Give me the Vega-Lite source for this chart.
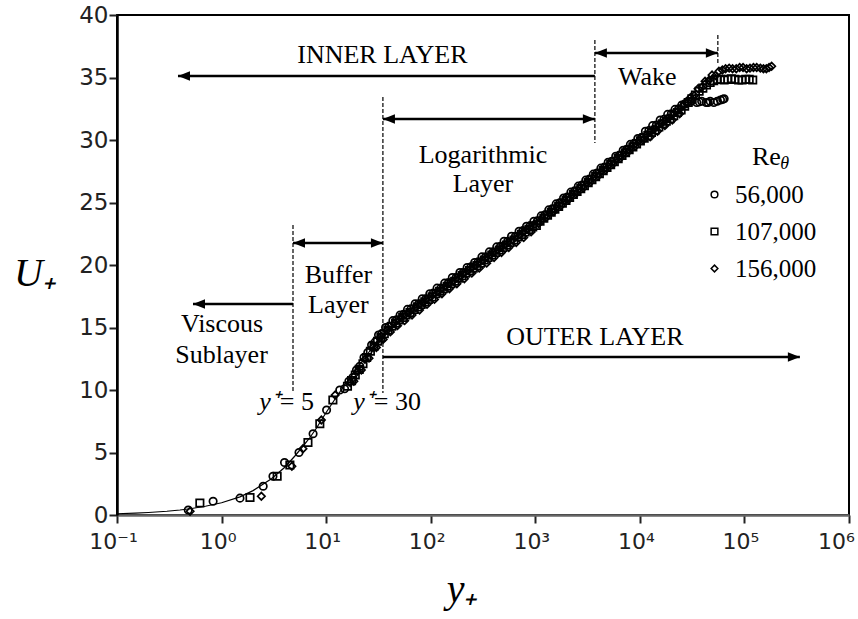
{
  "$schema": "https://vega.github.io/schema/vega-lite/v6.json",
  "width": 732,
  "height": 500,
  "autosize": {"type": "none"},
  "padding": {"left": 117, "top": 15, "right": 9, "bottom": 104},
  "background": "white",
  "config": {"view": {"stroke": "black", "strokeWidth": 2}, "font": "Liberation Serif"},
  "datasets": {
    "law": [
      {"yp": 0.1, "u": 0.1}, {"yp": 0.15, "u": 0.15}, {"yp": 0.2, "u": 0.2}, {"yp": 0.3, "u": 0.3}, {"yp": 0.4, "u": 0.4},
      {"yp": 0.5, "u": 0.5}, {"yp": 0.7, "u": 0.7}, {"yp": 1, "u": 0.98}, {"yp": 1.5, "u": 1.45}, {"yp": 2, "u": 1.95},
      {"yp": 3, "u": 2.9}, {"yp": 4, "u": 3.8}, {"yp": 5, "u": 4.7}, {"yp": 6, "u": 5.5}, {"yp": 7, "u": 6.2},
      {"yp": 8, "u": 6.9}, {"yp": 10, "u": 8.2}, {"yp": 12, "u": 9.2}, {"yp": 15, "u": 10.4}, {"yp": 20, "u": 11.8},
      {"yp": 25, "u": 12.9}, {"yp": 30, "u": 13.8}, {"yp": 40, "u": 14.9}, {"yp": 50, "u": 15.6}, {"yp": 70, "u": 16.5},
      {"yp": 100, "u": 17.5}, {"yp": 1000, "u": 23.3}, {"yp": 10000, "u": 29.9}, {"yp": 25000, "u": 32.5}
    ],
    "profile": [
      {"re": "56,000", "yp": 0.48, "u": 0.4}, {"re": "56,000", "yp": 0.83, "u": 1.1}, {"re": "56,000", "yp": 1.5, "u": 1.35},
      {"re": "56,000", "yp": 2.5, "u": 2.3}, {"re": "56,000", "yp": 3.1, "u": 3.1}, {"re": "56,000", "yp": 4.0, "u": 4.2},
      {"re": "56,000", "yp": 5.5, "u": 5.0}, {"re": "56,000", "yp": 7.5, "u": 6.5}, {"re": "56,000", "yp": 10.1, "u": 8.4},
      {"re": "56,000", "yp": 13.5, "u": 10.0}, {"re": "56,000", "yp": 15, "u": 10.1}, {"re": "56,000", "yp": 16.5, "u": 10.7},
      {"re": "56,000", "yp": 18, "u": 11.0}, {"re": "56,000", "yp": 19.5, "u": 11.6}, {"re": "56,000", "yp": 21, "u": 11.9},
      {"re": "56,000", "yp": 23, "u": 12.6}, {"re": "56,000", "yp": 25, "u": 13.0}, {"re": "56,000", "yp": 27.2, "u": 13.6},
      {"re": "56,000", "yp": 29.5, "u": 13.85}, {"re": "56,000", "yp": 31.7, "u": 14.4}, {"re": "56,000", "yp": 34, "u": 14.5},
      {"re": "56,000", "yp": 37, "u": 15.0}, {"re": "56,000", "yp": 40, "u": 15.1}, {"re": "56,000", "yp": 43.5, "u": 15.55},
      {"re": "56,000", "yp": 47, "u": 15.6}, {"re": "56,000", "yp": 51, "u": 16.0}, {"re": "56,000", "yp": 55, "u": 16.05},
      {"re": "56,000", "yp": 60, "u": 16.45}, {"re": "56,000", "yp": 65, "u": 16.5}, {"re": "56,000", "yp": 71, "u": 16.9},
      {"re": "56,000", "yp": 77, "u": 16.9}, {"re": "56,000", "yp": 83, "u": 17.3}, {"re": "56,000", "yp": 90, "u": 17.3},
      {"re": "56,000", "yp": 98, "u": 17.7}, {"re": "56,000", "yp": 106, "u": 17.75}, {"re": "56,000", "yp": 115, "u": 18.15},
      {"re": "56,000", "yp": 125, "u": 18.15}, {"re": "56,000", "yp": 136, "u": 18.55}, {"re": "56,000", "yp": 148, "u": 18.6},
      {"re": "56,000", "yp": 161, "u": 19.0}, {"re": "56,000", "yp": 175, "u": 19.0}, {"re": "56,000", "yp": 190, "u": 19.4},
      {"re": "56,000", "yp": 205, "u": 19.4}, {"re": "56,000", "yp": 223, "u": 19.8}, {"re": "56,000", "yp": 242, "u": 19.85},
      {"re": "56,000", "yp": 263, "u": 20.2}, {"re": "56,000", "yp": 285, "u": 20.25}, {"re": "56,000", "yp": 309, "u": 20.65},
      {"re": "56,000", "yp": 335, "u": 20.65}, {"re": "56,000", "yp": 364, "u": 21.05}, {"re": "56,000", "yp": 395, "u": 21.05},
      {"re": "56,000", "yp": 428, "u": 21.45}, {"re": "56,000", "yp": 465, "u": 21.5}, {"re": "56,000", "yp": 503, "u": 21.9},
      {"re": "56,000", "yp": 545, "u": 21.9}, {"re": "56,000", "yp": 593, "u": 22.3}, {"re": "56,000", "yp": 645, "u": 22.3},
      {"re": "56,000", "yp": 700, "u": 22.7}, {"re": "56,000", "yp": 760, "u": 22.75}, {"re": "56,000", "yp": 825, "u": 23.1},
      {"re": "56,000", "yp": 895, "u": 23.15}, {"re": "56,000", "yp": 970, "u": 23.5}, {"re": "56,000", "yp": 1050, "u": 23.54},
      {"re": "56,000", "yp": 1140, "u": 23.93}, {"re": "56,000", "yp": 1240, "u": 24.02}, {"re": "56,000", "yp": 1345, "u": 24.41},
      {"re": "56,000", "yp": 1460, "u": 24.5}, {"re": "56,000", "yp": 1585, "u": 24.89}, {"re": "56,000", "yp": 1720, "u": 24.98},
      {"re": "56,000", "yp": 1865, "u": 25.36}, {"re": "56,000", "yp": 2020, "u": 25.44}, {"re": "56,000", "yp": 2190, "u": 25.83},
      {"re": "56,000", "yp": 2380, "u": 25.93}, {"re": "56,000", "yp": 2580, "u": 26.31}, {"re": "56,000", "yp": 2800, "u": 26.4},
      {"re": "56,000", "yp": 3040, "u": 26.79}, {"re": "56,000", "yp": 3300, "u": 26.88}, {"re": "56,000", "yp": 3590, "u": 27.27},
      {"re": "56,000", "yp": 3900, "u": 27.36}, {"re": "56,000", "yp": 4240, "u": 27.75}, {"re": "56,000", "yp": 4600, "u": 27.84},
      {"re": "56,000", "yp": 4980, "u": 28.22}, {"re": "56,000", "yp": 5400, "u": 28.3}, {"re": "56,000", "yp": 5880, "u": 28.7},
      {"re": "56,000", "yp": 6400, "u": 28.8}, {"re": "56,000", "yp": 6930, "u": 29.18}, {"re": "56,000", "yp": 7500, "u": 29.26},
      {"re": "56,000", "yp": 8120, "u": 29.65}, {"re": "56,000", "yp": 8800, "u": 29.73}, {"re": "56,000", "yp": 9560, "u": 30.12},
      {"re": "56,000", "yp": 10400, "u": 30.21}, {"re": "56,000", "yp": 11300, "u": 30.7}, {"re": "56,000", "yp": 12200, "u": 30.75},
      {"re": "56,000", "yp": 13250, "u": 31.15}, {"re": "56,000", "yp": 14400, "u": 31.2}, {"re": "56,000", "yp": 15650, "u": 31.6},
      {"re": "56,000", "yp": 17000, "u": 31.65}, {"re": "56,000", "yp": 18450, "u": 32.05}, {"re": "56,000", "yp": 20000, "u": 32.1},
      {"re": "56,000", "yp": 21700, "u": 32.45}, {"re": "56,000", "yp": 23500, "u": 32.5}, {"re": "56,000", "yp": 25200, "u": 32.8},
      {"re": "56,000", "yp": 27000, "u": 32.9}, {"re": "56,000", "yp": 29000, "u": 33.1}, {"re": "56,000", "yp": 31000, "u": 33.1},
      {"re": "56,000", "yp": 35000, "u": 33.0}, {"re": "56,000", "yp": 37000, "u": 33.05}, {"re": "56,000", "yp": 39000, "u": 33.1},
      {"re": "56,000", "yp": 43000, "u": 33.0}, {"re": "56,000", "yp": 45000, "u": 33.0}, {"re": "56,000", "yp": 47000, "u": 33.1},
      {"re": "56,000", "yp": 51000, "u": 33.0}, {"re": "56,000", "yp": 55000, "u": 33.1}, {"re": "56,000", "yp": 59000, "u": 33.2},
      {"re": "56,000", "yp": 62000, "u": 33.25}, {"re": "56,000", "yp": 64000, "u": 33.3},
      {"re": "107,000", "yp": 0.62, "u": 0.96}, {"re": "107,000", "yp": 1.87, "u": 1.4}, {"re": "107,000", "yp": 3.4, "u": 3.1},
      {"re": "107,000", "yp": 4.5, "u": 4.0}, {"re": "107,000", "yp": 6.7, "u": 5.8}, {"re": "107,000", "yp": 8.7, "u": 7.3},
      {"re": "107,000", "yp": 11.6, "u": 9.2}, {"re": "107,000", "yp": 16, "u": 10.3}, {"re": "107,000", "yp": 17.5, "u": 10.75},
      {"re": "107,000", "yp": 19, "u": 11.2}, {"re": "107,000", "yp": 20.7, "u": 11.65}, {"re": "107,000", "yp": 22.5, "u": 12.1},
      {"re": "107,000", "yp": 24.4, "u": 12.6}, {"re": "107,000", "yp": 26.5, "u": 13.1}, {"re": "107,000", "yp": 28.7, "u": 13.5},
      {"re": "107,000", "yp": 31, "u": 13.9}, {"re": "107,000", "yp": 33.4, "u": 14.2}, {"re": "107,000", "yp": 36, "u": 14.5},
      {"re": "107,000", "yp": 39.1, "u": 14.8}, {"re": "107,000", "yp": 42.5, "u": 15.1}, {"re": "107,000", "yp": 46.1, "u": 15.35},
      {"re": "107,000", "yp": 50, "u": 15.6}, {"re": "107,000", "yp": 53.9, "u": 15.8}, {"re": "107,000", "yp": 58, "u": 16.0},
      {"re": "107,000", "yp": 63.3, "u": 16.2}, {"re": "107,000", "yp": 69, "u": 16.45}, {"re": "107,000", "yp": 74.8, "u": 16.65},
      {"re": "107,000", "yp": 81, "u": 16.85}, {"re": "107,000", "yp": 87.7, "u": 17.05}, {"re": "107,000", "yp": 95, "u": 17.25},
      {"re": "107,000", "yp": 103, "u": 17.45}, {"re": "107,000", "yp": 112, "u": 17.7}, {"re": "107,000", "yp": 121.6, "u": 17.9},
      {"re": "107,000", "yp": 132, "u": 18.1}, {"re": "107,000", "yp": 143.5, "u": 18.3}, {"re": "107,000", "yp": 156, "u": 18.5},
      {"re": "107,000", "yp": 169.4, "u": 18.7}, {"re": "107,000", "yp": 184, "u": 18.95}, {"re": "107,000", "yp": 199.4, "u": 19.15},
      {"re": "107,000", "yp": 216, "u": 19.35}, {"re": "107,000", "yp": 234.7, "u": 19.55}, {"re": "107,000", "yp": 255, "u": 19.75},
      {"re": "107,000", "yp": 276.6, "u": 19.95}, {"re": "107,000", "yp": 300, "u": 20.15}, {"re": "107,000", "yp": 325.4, "u": 20.4},
      {"re": "107,000", "yp": 353, "u": 20.6}, {"re": "107,000", "yp": 383.7, "u": 20.8}, {"re": "107,000", "yp": 417, "u": 21.0},
      {"re": "107,000", "yp": 452, "u": 21.2}, {"re": "107,000", "yp": 490, "u": 21.4}, {"re": "107,000", "yp": 530.8, "u": 21.6},
      {"re": "107,000", "yp": 575, "u": 21.8}, {"re": "107,000", "yp": 625.3, "u": 22.0}, {"re": "107,000", "yp": 680, "u": 22.25},
      {"re": "107,000", "yp": 737.6, "u": 22.45}, {"re": "107,000", "yp": 800, "u": 22.65}, {"re": "107,000", "yp": 869.5, "u": 22.85},
      {"re": "107,000", "yp": 945, "u": 23.05}, {"re": "107,000", "yp": 1024, "u": 23.17}, {"re": "107,000", "yp": 1110, "u": 23.5},
      {"re": "107,000", "yp": 1206, "u": 23.74}, {"re": "107,000", "yp": 1310, "u": 23.98}, {"re": "107,000", "yp": 1420, "u": 24.22},
      {"re": "107,000", "yp": 1540, "u": 24.46}, {"re": "107,000", "yp": 1672, "u": 24.69}, {"re": "107,000", "yp": 1815, "u": 24.94},
      {"re": "107,000", "yp": 1966, "u": 25.17}, {"re": "107,000", "yp": 2130, "u": 25.4}, {"re": "107,000", "yp": 2312, "u": 25.64},
      {"re": "107,000", "yp": 2510, "u": 25.88}, {"re": "107,000", "yp": 2721, "u": 26.11}, {"re": "107,000", "yp": 2950, "u": 26.35},
      {"re": "107,000", "yp": 3204, "u": 26.59}, {"re": "107,000", "yp": 3480, "u": 26.83}, {"re": "107,000", "yp": 3777, "u": 27.07},
      {"re": "107,000", "yp": 4100, "u": 27.31}, {"re": "107,000", "yp": 4459, "u": 27.55}, {"re": "107,000", "yp": 4850, "u": 27.8},
      {"re": "107,000", "yp": 5258, "u": 28.03}, {"re": "107,000", "yp": 5700, "u": 28.27}, {"re": "107,000", "yp": 6203, "u": 28.51},
      {"re": "107,000", "yp": 6750, "u": 28.76}, {"re": "107,000", "yp": 7302, "u": 28.98}, {"re": "107,000", "yp": 7900, "u": 29.22},
      {"re": "107,000", "yp": 8572, "u": 29.45}, {"re": "107,000", "yp": 9300, "u": 29.69}, {"re": "107,000", "yp": 10115, "u": 29.93},
      {"re": "107,000", "yp": 11000, "u": 30.15}, {"re": "107,000", "yp": 11912, "u": 30.35}, {"re": "107,000", "yp": 12900, "u": 30.6},
      {"re": "107,000", "yp": 14003, "u": 30.8}, {"re": "107,000", "yp": 15200, "u": 31.05}, {"re": "107,000", "yp": 16495, "u": 31.3},
      {"re": "107,000", "yp": 17900, "u": 31.5}, {"re": "107,000", "yp": 19434, "u": 31.7}, {"re": "107,000", "yp": 21100, "u": 31.95},
      {"re": "107,000", "yp": 22876, "u": 32.2}, {"re": "107,000", "yp": 24800, "u": 32.4}, {"re": "107,000", "yp": 26818, "u": 32.7},
      {"re": "107,000", "yp": 29000, "u": 33.0}, {"re": "107,000", "yp": 31400, "u": 33.3}, {"re": "107,000", "yp": 34000, "u": 33.6},
      {"re": "107,000", "yp": 36878, "u": 33.9}, {"re": "107,000", "yp": 40000, "u": 34.15}, {"re": "107,000", "yp": 43360, "u": 34.4},
      {"re": "107,000", "yp": 47000, "u": 34.6}, {"re": "107,000", "yp": 50850, "u": 34.75}, {"re": "107,000", "yp": 55000, "u": 34.85},
      {"re": "107,000", "yp": 59000, "u": 34.85}, {"re": "107,000", "yp": 64000, "u": 34.8}, {"re": "107,000", "yp": 69500, "u": 34.85},
      {"re": "107,000", "yp": 75000, "u": 34.9}, {"re": "107,000", "yp": 81000, "u": 34.85}, {"re": "107,000", "yp": 88000, "u": 34.8},
      {"re": "107,000", "yp": 95000, "u": 34.8}, {"re": "107,000", "yp": 103000, "u": 34.85}, {"re": "107,000", "yp": 111000, "u": 34.85},
      {"re": "107,000", "yp": 120000, "u": 34.8},
      {"re": "156,000", "yp": 0.5, "u": 0.3}, {"re": "156,000", "yp": 2.4, "u": 1.5}, {"re": "156,000", "yp": 4.7, "u": 3.9},
      {"re": "156,000", "yp": 6.0, "u": 5.3}, {"re": "156,000", "yp": 9.0, "u": 7.6}, {"re": "156,000", "yp": 12.2, "u": 9.6},
      {"re": "156,000", "yp": 17, "u": 10.6}, {"re": "156,000", "yp": 18.4, "u": 10.7}, {"re": "156,000", "yp": 20, "u": 11.5},
      {"re": "156,000", "yp": 21.7, "u": 11.6}, {"re": "156,000", "yp": 23.5, "u": 12.45}, {"re": "156,000", "yp": 25.7, "u": 12.55},
      {"re": "156,000", "yp": 28, "u": 13.4}, {"re": "156,000", "yp": 30.2, "u": 13.4}, {"re": "156,000", "yp": 32.5, "u": 14.15},
      {"re": "156,000", "yp": 35.1, "u": 14.05}, {"re": "156,000", "yp": 38, "u": 14.75}, {"re": "156,000", "yp": 41.1, "u": 14.65},
      {"re": "156,000", "yp": 44.5, "u": 15.3}, {"re": "156,000", "yp": 48.1, "u": 15.15}, {"re": "156,000", "yp": 52, "u": 15.75},
      {"re": "156,000", "yp": 56.3, "u": 15.55}, {"re": "156,000", "yp": 61, "u": 16.15}, {"re": "156,000", "yp": 66.3, "u": 16.0},
      {"re": "156,000", "yp": 72, "u": 16.6}, {"re": "156,000", "yp": 78.2, "u": 16.4}, {"re": "156,000", "yp": 85, "u": 17.0},
      {"re": "156,000", "yp": 92.2, "u": 16.85}, {"re": "156,000", "yp": 100, "u": 17.45}, {"re": "156,000", "yp": 108.6, "u": 17.25},
      {"re": "156,000", "yp": 118, "u": 17.85}, {"re": "156,000", "yp": 128.1, "u": 17.7}, {"re": "156,000", "yp": 139, "u": 18.3},
      {"re": "156,000", "yp": 151, "u": 18.1}, {"re": "156,000", "yp": 164, "u": 18.7}, {"re": "156,000", "yp": 177.9, "u": 18.5},
      {"re": "156,000", "yp": 193, "u": 19.1}, {"re": "156,000", "yp": 209.8, "u": 18.9}, {"re": "156,000", "yp": 228, "u": 19.55},
      {"re": "156,000", "yp": 247.2, "u": 19.35}, {"re": "156,000", "yp": 268, "u": 19.95}, {"re": "156,000", "yp": 291, "u": 19.75},
      {"re": "156,000", "yp": 316, "u": 20.35}, {"re": "156,000", "yp": 343, "u": 20.15}, {"re": "156,000", "yp": 372, "u": 20.8},
      {"re": "156,000", "yp": 403.6, "u": 20.6}, {"re": "156,000", "yp": 438, "u": 21.2}, {"re": "156,000", "yp": 475, "u": 21.0},
      {"re": "156,000", "yp": 515, "u": 21.6}, {"re": "156,000", "yp": 558, "u": 21.4}, {"re": "156,000", "yp": 605, "u": 22.0},
      {"re": "156,000", "yp": 657.7, "u": 21.8}, {"re": "156,000", "yp": 715, "u": 22.4}, {"re": "156,000", "yp": 775, "u": 22.2},
      {"re": "156,000", "yp": 840, "u": 22.85}, {"re": "156,000", "yp": 912, "u": 22.65}, {"re": "156,000", "yp": 990, "u": 23.27},
      {"re": "156,000", "yp": 1076, "u": 23.31}, {"re": "156,000", "yp": 1170, "u": 23.76}, {"re": "156,000", "yp": 1271, "u": 23.8},
      {"re": "156,000", "yp": 1380, "u": 24.24}, {"re": "156,000", "yp": 1495, "u": 24.27}, {"re": "156,000", "yp": 1620, "u": 24.71},
      {"re": "156,000", "yp": 1759, "u": 24.74}, {"re": "156,000", "yp": 1910, "u": 25.18}, {"re": "156,000", "yp": 2073, "u": 25.22},
      {"re": "156,000", "yp": 2250, "u": 25.66}, {"re": "156,000", "yp": 2437, "u": 25.69}, {"re": "156,000", "yp": 2640, "u": 26.13},
      {"re": "156,000", "yp": 2865, "u": 26.16}, {"re": "156,000", "yp": 3110, "u": 26.6}, {"re": "156,000", "yp": 3374, "u": 26.64},
      {"re": "156,000", "yp": 3660, "u": 27.07}, {"re": "156,000", "yp": 3976, "u": 27.11}, {"re": "156,000", "yp": 4320, "u": 27.55},
      {"re": "156,000", "yp": 4694, "u": 27.6}, {"re": "156,000", "yp": 5100, "u": 28.04}, {"re": "156,000", "yp": 5532, "u": 28.08},
      {"re": "156,000", "yp": 6000, "u": 28.51}, {"re": "156,000", "yp": 6527, "u": 28.56}, {"re": "156,000", "yp": 7100, "u": 29.0},
      {"re": "156,000", "yp": 7677, "u": 29.03}, {"re": "156,000", "yp": 8300, "u": 29.46}, {"re": "156,000", "yp": 9019, "u": 29.5},
      {"re": "156,000", "yp": 9800, "u": 29.94}, {"re": "156,000", "yp": 10662, "u": 29.99}, {"re": "156,000", "yp": 11600, "u": 30.4},
      {"re": "156,000", "yp": 12560, "u": 30.25}, {"re": "156,000", "yp": 13600, "u": 30.85}, {"re": "156,000", "yp": 14751, "u": 30.7},
      {"re": "156,000", "yp": 16000, "u": 31.3}, {"re": "156,000", "yp": 17344, "u": 31.15}, {"re": "156,000", "yp": 18800, "u": 31.75},
      {"re": "156,000", "yp": 20430, "u": 31.6}, {"re": "156,000", "yp": 22200, "u": 32.25}, {"re": "156,000", "yp": 24025, "u": 32.1},
      {"re": "156,000", "yp": 26000, "u": 32.75}, {"re": "156,000", "yp": 28160, "u": 32.9}, {"re": "156,000", "yp": 30500, "u": 33.4},
      {"re": "156,000", "yp": 33136, "u": 33.55}, {"re": "156,000", "yp": 36000, "u": 34.1}, {"re": "156,000", "yp": 38884, "u": 34.2},
      {"re": "156,000", "yp": 42000, "u": 34.7}, {"re": "156,000", "yp": 45365, "u": 34.75}, {"re": "156,000", "yp": 49000, "u": 35.2},
      {"re": "156,000", "yp": 52850, "u": 35.15}, {"re": "156,000", "yp": 57000, "u": 35.5}, {"re": "156,000", "yp": 61500, "u": 35.6},
      {"re": "156,000", "yp": 66000, "u": 35.7}, {"re": "156,000", "yp": 71500, "u": 35.75}, {"re": "156,000", "yp": 77000, "u": 35.7},
      {"re": "156,000", "yp": 83500, "u": 35.7}, {"re": "156,000", "yp": 90000, "u": 35.8}, {"re": "156,000", "yp": 97000, "u": 35.8},
      {"re": "156,000", "yp": 105000, "u": 35.7}, {"re": "156,000", "yp": 113000, "u": 35.75}, {"re": "156,000", "yp": 122000, "u": 35.8},
      {"re": "156,000", "yp": 131000, "u": 35.8}, {"re": "156,000", "yp": 142000, "u": 35.75}, {"re": "156,000", "yp": 152000, "u": 35.7},
      {"re": "156,000", "yp": 162000, "u": 35.7}, {"re": "156,000", "yp": 172000, "u": 35.8}, {"re": "156,000", "yp": 182000, "u": 35.9}
    ],
    "dashes": [
      {"yp": 4.82, "u": 23.2, "u2": 9.76},
      {"yp": 34.9, "u": 33.44, "u2": 9.76},
      {"yp": 3715, "u": 38.0, "u2": 29.76},
      {"yp": 55700, "u": 38.4, "u2": 36.0}
    ],
    "arrows": [
      {"name": "inner", "yp": 0.383, "yp2": 3715, "u": 35.12},
      {"name": "wake", "yp": 3715, "yp2": 55700, "u": 36.96},
      {"name": "log", "yp": 34.9, "yp2": 3715, "u": 31.68},
      {"name": "buffer", "yp": 4.82, "yp2": 34.9, "u": 21.76},
      {"name": "viscous", "yp": 0.533, "yp2": 4.82, "u": 16.88},
      {"name": "outer", "yp": 34.9, "yp2": 339000, "u": 12.64}
    ],
    "heads": [
      {"dir": "L", "yp": 0.383, "u": 35.12}, {"dir": "L", "yp": 3715, "u": 36.96}, {"dir": "L", "yp": 34.9, "u": 31.68},
      {"dir": "L", "yp": 4.82, "u": 21.76}, {"dir": "L", "yp": 0.533, "u": 16.88},
      {"dir": "R", "yp": 55700, "u": 36.96}, {"dir": "R", "yp": 3715, "u": 31.68}, {"dir": "R", "yp": 34.9, "u": 21.76},
      {"dir": "R", "yp": 339000, "u": 12.64}
    ],
    "notes": [
      {"yp": 34.5, "u": 36.16, "text": "INNER LAYER"},
      {"yp": 11800, "u": 34.4, "text": "Wake"},
      {"yp": 316, "u": 28.16, "text": "Logarithmic"},
      {"yp": 316, "u": 25.84, "text": "Layer"},
      {"yp": 13.1, "u": 18.56, "text": "Buffer"},
      {"yp": 13.1, "u": 16.16, "text": "Layer"},
      {"yp": 1.01, "u": 14.64, "text": "Viscous"},
      {"yp": 1.0, "u": 12.16, "text": "Sublayer"},
      {"yp": 3715, "u": 13.6, "text": "OUTER LAYER"},
      {"yp": 162000, "u": 28.0, "text": "Re"}
    ],
    "yplus": [
      {"yp": 3.61, "u": 8.4, "text": "y⁺"},
      {"yp": 28.6, "u": 8.4, "text": "y⁺"}
    ],
    "yval": [
      {"yp": 3.61, "u": 8.4, "text": "= 5"},
      {"yp": 28.6, "u": 8.4, "text": "= 30"}
    ],
    "theta": [
      {"yp": 243000, "u": 27.7, "text": "θ"}
    ]
  },
  "encoding": {
    "x": {
      "field": "yp", "type": "quantitative",
      "scale": {"type": "log", "domain": [0.1, 1000000], "nice": false},
      "axis": {
        "values": [0.1, 1, 10, 100, 1000, 10000, 100000, 1000000],
        "labelExpr": "datum.value < 0.5 ? '10⁻¹' : '10' + ['⁰','¹','²','³','⁴','⁵','⁶'][round(log(datum.value)/LN10)]",
        "labelFont": "DejaVu Sans", "labelFontSize": 22, "labelColor": "#222", "labelPadding": 8,
        "labelFlush": false, "labelOverlap": false,
        "labelOffset": {"condition": {"test": "datum.value > 500000", "value": -13}, "value": -4},
        "tickSize": 8, "tickWidth": 2, "tickColor": "#222",
        "domainColor": "#666", "domainWidth": 2.5, "grid": false,
        "title": "y₊", "titleFont": "Liberation Serif", "titleFontStyle": "italic", "titleFontWeight": "normal",
        "titleFontSize": 40, "titleColor": "black", "titleX": 345, "titleY": 86, "titleAlign": "center", "titleBaseline": "alphabetic"
      }
    },
    "y": {
      "field": "u", "type": "quantitative",
      "scale": {"domain": [0, 40], "nice": false},
      "axis": {
        "values": [0, 5, 10, 15, 20, 25, 30, 35, 40],
        "labelFont": "DejaVu Sans", "labelFontSize": 23, "labelColor": "#222", "labelPadding": 1,
        "tickSize": 8, "tickWidth": 2, "tickColor": "#222",
        "domainColor": "black", "domainWidth": 2.5, "grid": false,
        "title": "U₊", "titleFont": "Liberation Serif", "titleFontStyle": "italic", "titleFontWeight": "normal",
        "titleFontSize": 40, "titleColor": "black", "titleAngle": 0, "titleX": -82, "titleY": 258,
        "titleAlign": "center", "titleBaseline": "middle"
      }
    }
  },
  "layer": [
    {
      "data": {"name": "law"},
      "mark": {"type": "line", "color": "black", "strokeWidth": 1.2}
    },
    {
      "data": {"name": "profile"},
      "mark": {"type": "point", "filled": false, "color": "black", "strokeWidth": 1.7, "size": 55, "opacity": 1},
      "encoding": {
        "shape": {
          "field": "re", "type": "nominal",
          "scale": {"domain": ["56,000", "107,000", "156,000"], "range": ["circle", "square", "diamond"]},
          "legend": {
            "orient": "none", "legendX": 585, "legendY": 167, "title": null, "padding": 0,
            "labelFont": "Liberation Serif", "labelFontSize": 25, "labelColor": "black", "labelOffset": 8,
            "symbolSize": 45, "symbolStrokeColor": "black", "symbolFillColor": "transparent", "symbolStrokeWidth": 1.5,
            "rowPadding": 11,
            "labelExpr": "datum.label == '56,000' ? '\u00a0\u00a0' + datum.label : datum.label"
          }
        }
      }
    },
    {
      "data": {"name": "dashes"},
      "mark": {"type": "rule", "color": "black", "strokeWidth": 1.2, "strokeDash": [4, 2]},
      "encoding": {"y2": {"field": "u2"}}
    },
    {
      "data": {"name": "arrows"},
      "mark": {"type": "rule", "color": "black", "strokeWidth": 2.5},
      "encoding": {"x2": {"field": "yp2"}}
    },
    {
      "data": {"name": "heads"},
      "transform": [{"filter": "datum.dir == 'L'"}],
      "mark": {"type": "point", "shape": "M0,0L6,-2.4L6,2.4Z", "filled": true, "color": "black", "size": 16, "opacity": 1, "strokeWidth": 0}
    },
    {
      "data": {"name": "heads"},
      "transform": [{"filter": "datum.dir == 'R'"}],
      "mark": {"type": "point", "shape": "M0,0L-6,-2.4L-6,2.4Z", "filled": true, "color": "black", "size": 16, "opacity": 1, "strokeWidth": 0}
    },
    {
      "data": {"name": "notes"},
      "mark": {"type": "text", "font": "Liberation Serif", "fontSize": 26, "color": "black", "align": "center", "baseline": "alphabetic"},
      "encoding": {"text": {"field": "text"}}
    },
    {
      "data": {"name": "yplus"},
      "mark": {"type": "text", "font": "Liberation Serif", "fontSize": 26, "fontStyle": "italic", "color": "black", "align": "right", "baseline": "alphabetic"},
      "encoding": {"text": {"field": "text"}}
    },
    {
      "data": {"name": "yval"},
      "mark": {"type": "text", "font": "Liberation Serif", "fontSize": 26, "color": "black", "align": "left", "baseline": "alphabetic"},
      "encoding": {"text": {"field": "text"}}
    },
    {
      "data": {"name": "theta"},
      "mark": {"type": "text", "font": "Liberation Serif", "fontSize": 18, "fontStyle": "italic", "color": "black", "align": "center", "baseline": "alphabetic"},
      "encoding": {"text": {"field": "text"}}
    }
  ]
}
